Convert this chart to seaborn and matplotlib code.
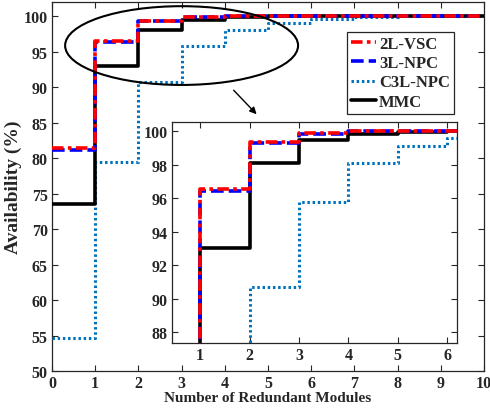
import numpy as np
import pandas as pd
import matplotlib
matplotlib.use("Agg")
import matplotlib.pyplot as plt
import seaborn as sns
from matplotlib.patches import Ellipse

# ---- data ----
modules = [0, 1, 2, 3, 4, 5, 6, 7, 8, 9, 10]
vsc2l = [81.4, 96.55, 99.35, 99.88, 100, 100, 100, 100, 100, 100, 100]
npc3l = [81.1, 96.4, 99.3, 99.85, 100, 100, 100, 100, 100, 100, 100]
c3lnpc = [54.7, 79.4, 90.7, 95.75, 98.1, 99.1, 99.6, 99.85, 100, 100, 100]
mmc = [73.5, 93.0, 98.1, 99.5, 99.85, 99.97, 100, 100, 100, 100, 100]
names = ["2L-VSC", "3L-NPC", "C3L-NPC", "MMC"]
xticks_main = [0, 1, 2, 3, 4, 5, 6, 7, 8, 9, 10]
yticks_main = [50, 55, 60, 65, 70, 75, 80, 85, 90, 95, 100]
xticks_in = [1, 2, 3, 4, 5, 6]
yticks_in = [88, 90, 92, 94, 96, 98, 100]

df = pd.DataFrame({"x": modules * 4,
                   "y": vsc2l + npc3l + c3lnpc + mmc,
                   "series": sum([[n] * len(modules) for n in names], [])})

sns.set_style("ticks")
plt.rcParams["font.family"] = ["Liberation Serif", "DejaVu Serif"]
plt.rcParams["font.weight"] = "bold"
plt.rcParams["axes.labelweight"] = "bold"
plt.rcParams["xtick.direction"] = "in"
plt.rcParams["ytick.direction"] = "in"

styles = {
    "2L-VSC": dict(color="#ff0000", ls=(0, (3.2, 1.2, 1.0, 1.2)), lw=2.6, z=5),
    "3L-NPC": dict(color="#0000ff", ls=(0, (3.5, 1.4)), lw=2.6, z=4),
    "C3L-NPC": dict(color="#0072BD", ls=(0, (0.8, 0.9)), lw=2.2, z=3),
    "MMC": dict(color="#000000", ls="-", lw=2.6, z=3),
}

fig = plt.figure(figsize=(4.9, 4.1), dpi=100)
ax = fig.add_axes([0.106, 0.0927, 0.882, 0.900])
axin = fig.add_axes([0.351, 0.161, 0.582, 0.539])

edge = "#262626"
for a in (ax, axin):
    for n in names:
        s = styles[n]
        sns.lineplot(data=df[df.series == n], x="x", y="y", ax=a,
                     color=s["color"], lw=s["lw"], drawstyle="steps-post",
                     label=n if a is ax else None, zorder=s["z"])
        a.lines[-1].set_linestyle(s["ls"])
    for sp in a.spines.values():
        sp.set_visible(True)
        sp.set_color(edge)
        sp.set_linewidth(0.9)
    a.tick_params(which="both", top=True, right=True, direction="in",
                  length=4, width=0.8, color=edge, labelcolor=edge,
                  labelsize=11.5, pad=3)
    a.set_xlabel("")
    a.set_ylabel("")
    for lab in a.get_xticklabels() + a.get_yticklabels():
        lab.set_fontweight("bold")

ax.set_xlim(0, 10)
ax.set_ylim(50, 102)
ax.set_xticks(xticks_main)
ax.set_yticks(yticks_main)
ax.set_xlabel("Number of Redundant Modules", fontsize=11, fontweight="bold",
              color=edge, labelpad=0)
ax.set_ylabel("Availability (%)", fontsize=14, fontweight="bold",
              color=edge, labelpad=1)

axin.set_xlim(0.43, 6.2)
axin.set_ylim(87.35, 100.55)
axin.set_xticks(xticks_in)
axin.set_yticks(yticks_in)
axin.set_facecolor("white")
if axin.get_legend() is not None:
    axin.get_legend().remove()

leg = ax.legend(loc="upper right", bbox_to_anchor=(0.93, 0.92), frameon=True,
                fancybox=False, edgecolor=edge, framealpha=1,
                prop=dict(family="Liberation Serif", weight="bold", size=12),
                handlelength=1.5, handletextpad=0.15, borderpad=0.25,
                labelspacing=0.2, borderaxespad=0)
leg.get_frame().set_linewidth(0.9)
for t in leg.get_texts():
    t.set_color(edge)

ell = Ellipse((3.0, 95.86), 5.39, 11.1, fill=False, edgecolor="black",
              lw=1.5, zorder=6)
ax.add_patch(ell)
ax.annotate("", xy=(4.78, 85.9), xytext=(4.16, 89.85),
            arrowprops=dict(arrowstyle="-|>", color="black", lw=1.0,
                            mutation_scale=10), zorder=6)

fig.savefig("out.png", dpi=100)
